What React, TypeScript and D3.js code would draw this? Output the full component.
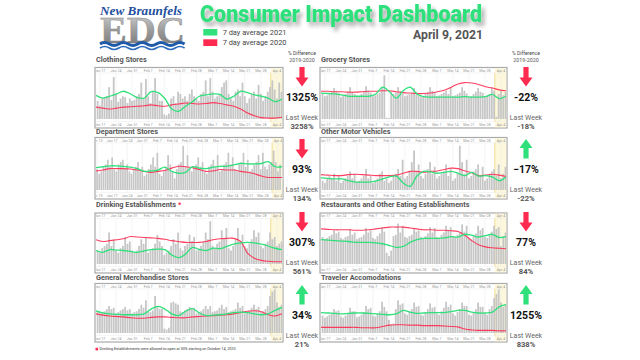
import React from 'react';
import * as d3 from 'd3';

// ---------- DATA ----------
const weekTickLabels = ['Jan 10', 'Jan 17', 'Jan 24', 'Jan 31', 'Feb 7', 'Feb 14', 'Feb 21', 'Feb 28', 'Mar 7', 'Mar 14', 'Mar 21', 'Mar 28', 'Apr 4'];
const weekTickDays = [9, 16, 23, 30, 37, 44, 51, 58, 65, 72, 79, 86, 93];

const clothingBars = [40,30,45,48,50,70,42, 92,55,38,45,50,48,35, 45,40,42,50,55,80,45, 88,50,35,60,90,55,40, 40,10,8,12,45,50,35, 60,55,45,50,40,55,65, 50,45,40,55,60,85,50, 90,60,45,50,55,70,80, 85,55,45,40,60,65,50, 80,50,35,45,55,60,45, 75,55,40,50,60,70,85, 65,45,80,60];
const clothingGreen = [52,46,50,55,61,55,47,46,60,58,45,22,17,28,38,50,53,55,54,44,50,61,58,53,50,46,38,44];
const clothingRed = [26,24,22,24,26,27,28,29,31,29,28,31,33,35,34,33,34,36,34,31,28,22,13,7,3,2,2,4];

const departmentBars = [45,35,40,50,55,65,50, 70,45,40,55,60,65,45, 55,40,35,45,50,60,40, 50,30,35,45,55,70,50, 80,35,30,40,50,75,55, 40,25,45,55,60,95,50, 75,45,40,50,55,70,50, 60,40,35,50,55,65,50, 75,40,45,55,60,80,55, 70,45,40,55,60,80,50, 65,40,45,55,60,75,45, 80,50,45,55,60,85,60, 40,55];
const departmentGreen = [48,50,52,52,51,49,46,40,41,43,49,40,36,38,50,47,46,49,51,51,54,57,56,56,57,61,50,50];
const departmentRed = [41,43,46,46,46,45,43,40,38,40,42,47,51,50,48,44,40,41,44,43,43,40,38,35,30,27,27,27];

const drinkingBars = [30,25,35,40,45,70,40, 55,30,25,35,40,60,45, 50,30,25,30,40,55,45, 60,25,30,35,45,65,50, 40,20,25,30,40,55,45, 70,35,30,40,45,65,50, 60,30,35,40,50,70,55, 95,40,35,45,50,75,55, 80,35,30,40,55,80,50, 65,40,35,45,55,75,60, 70,40,35,45,50,70,55, 60,40,45,50];
const drinkingGreen = [30,26,32,31,30,28,26,29,32,33,32,20,14,22,37,32,30,35,34,39,44,47,48,47,44,40,35,32];
const drinkingRed = [54,50,52,54,56,61,60,59,58,57,55,52,50,48,48,48,50,54,56,57,57,50,24,13,8,6,5,5];

const merchBars = [50,45,48,50,55,62,55, 58,45,48,52,55,60,52, 55,45,48,50,55,65,58, 75,50,48,52,85,60,55, 55,10,8,12,70,72,68, 65,50,48,52,55,60,55, 58,45,48,50,55,62,55, 62,48,50,52,58,65,55, 60,48,50,52,55,70,58, 62,45,48,52,58,65,55, 60,48,50,55,62,85,95, 100,70,60,65];
const merchGreen = [51,46,44,43,42,42,42,44,55,61,55,44,40,50,56,46,40,41,42,44,47,48,47,44,42,44,52,59];
const merchRed = [44,41,39,38,37,35,34,34,36,37,37,36,35,35,37,38,39,40,41,42,44,47,50,51,49,42,39,44];

const groceryBars = [55,50,52,55,60,68,62, 58,48,52,55,58,70,60, 55,50,50,55,60,72,62, 58,50,52,55,58,70,96, 3,2,60,55,58,70,62, 56,50,52,55,58,68,60, 52,48,50,55,60,70,62, 58,50,52,55,58,62,55, 70,50,52,55,58,70,62, 56,48,50,55,60,68,60, 58,50,52,55,70,62,5, 55,62,52,60];
const groceryGreen = [57,56,55,53,50,50,50,50,55,70,60,46,62,70,55,49,48,48,48,48,48,49,48,48,49,54,45,50];
const groceryRed = [61,61,60,60,59,59,60,61,61,62,62,60,58,57,56,56,57,60,63,70,77,80,79,76,71,68,64,62];

const motorBars = [20,15,25,30,25,35,20, 30,15,20,25,30,40,25, 35,18,20,25,30,45,25, 30,15,20,25,35,40,20, 25,15,20,30,35,45,30, 65,25,30,40,60,85,40, 55,30,25,35,45,60,35, 50,25,30,35,40,55,30, 45,20,25,35,95,60,35, 65,25,30,40,45,55,30, 50,20,25,35,40,45,30, 55,25,35,50];
const motorGreen = [26,25,24,24,20,17,17,17,19,24,28,30,15,8,30,40,39,36,38,40,36,31,38,30,31,28,20,28];
const motorRed = [33,32,31,31,33,34,33,32,31,31,31,32,36,40,40,38,40,41,44,47,46,41,37,31,32,34,32,29];

const restaurantBars = [60,55,58,62,65,75,68, 72,58,55,60,62,78,65, 70,55,58,60,65,80,70, 75,58,55,62,68,82,72, 25,18,30,62,65,90,70, 85,60,58,62,65,80,72, 75,60,58,62,68,82,70, 80,60,58,65,70,85,75, 82,62,60,65,70,88,72, 85,58,55,62,68,85,75, 80,60,58,65,72,85,78, 82,40,62,70];
const restaurantGreen = [54,53,52,51,50,48,48,48,47,45,41,37,39,48,54,57,57,57,58,61,60,66,64,60,63,66,59,61];
const restaurantRed = [78,77,76,76,76,75,75,76,78,80,82,82,82,80,78,76,76,75,75,74,72,64,52,43,38,36,35,34];

const travelerBars = [40,35,38,42,45,55,50, 52,38,35,40,45,58,50, 50,36,38,42,48,62,55, 58,40,38,45,50,72,60, 50,30,20,22,55,75,65, 68,45,42,50,55,70,60, 62,42,40,48,55,68,58, 60,45,42,50,58,72,60, 65,45,40,48,55,70,62, 62,42,40,48,55,70,60, 60,45,42,55,62,80,90, 100,70,60,65];
const travelerGreen = [47,46,45,44,45,46,46,45,44,43,42,44,52,48,45,46,47,47,47,49,52,52,48,46,46,48,60,65];
const travelerRed = [13,13,13,13,13,13,12,12,12,15,18,19,19,18,18,17,17,17,16,15,14,9,7,6,6,6,5,5];

const panelNames = ['Clothing Stores', 'Department Stores', 'Drinking Establishments', 'General Merchandise Stores', 'Grocery Stores', 'Other Motor Vehicles', 'Restaurants and Other Eating Establishments', 'Traveler Accomodations'];
const pctValues = ['1325%', '93%', '307%', '34%', '-22%', '\u221217%', '77%', '1255%'];
const lastWeekValues = ['3258%', '134%', '561%', '21%', '-18%', '-22%', '84%', '838%'];
const trendUp = [false, false, false, true, false, true, false, true];

// ---------- LAYOUT ----------
const COLS = [{ x0: 95, x1: 283, ind: 302 }, { x0: 320, x1: 507, ind: 526 }];
const ROWS = [
  { title: 62, ft: 67.5, fb: 128 },
  { title: 134, ft: 137.5, fb: 199 },
  { title: 207, ft: 213, fb: 273 },
  { title: 280, ft: 283.5, fb: 342 },
];
const GREEN = '#2fe07b';
const RED = '#ff2a4f';
const STD_DOMAIN: [number, number] = [14.3, 95.2];
const DEPT_DOMAIN: [number, number] = [8.5, 94.9];

const panels = [
  { col: 0, row: 0, bars: clothingBars, green: clothingGreen, red: clothingRed, start: 15, domain: STD_DOMAIN },
  { col: 0, row: 1, bars: departmentBars, green: departmentGreen, red: departmentRed, start: 9, domain: DEPT_DOMAIN },
  { col: 0, row: 2, bars: drinkingBars, green: drinkingGreen, red: drinkingRed, start: 15, domain: STD_DOMAIN },
  { col: 0, row: 3, bars: merchBars, green: merchGreen, red: merchRed, start: 15, domain: STD_DOMAIN },
  { col: 1, row: 0, bars: groceryBars, green: groceryGreen, red: groceryRed, start: 15, domain: STD_DOMAIN },
  { col: 1, row: 1, bars: motorBars, green: motorGreen, red: motorRed, start: 15, domain: STD_DOMAIN },
  { col: 1, row: 2, bars: restaurantBars, green: restaurantGreen, red: restaurantRed, start: 15, domain: STD_DOMAIN },
  { col: 1, row: 3, bars: travelerBars, green: travelerGreen, red: travelerRed, start: 15, domain: STD_DOMAIN },
].map((p, i) => ({ ...p, name: panelNames[i], pct: pctValues[i], last: lastWeekValues[i], up: trendUp[i] }));

const FONT = 'Roboto, "Open Sans", sans-serif';

function Chart({ p, idx }: any) {
  const c = COLS[p.col];
  const r = ROWS[p.row];
  const x = d3.scaleLinear().domain(p.domain).range([c.x0 + 1, c.x1 - 1]);
  const y = d3.scaleLinear().domain([0, 100]).range([r.fb - 9, r.ft + 6]);
  const dayW = x(1) - x(0);
  const bw = dayW * 0.78;
  const n = p.green.length;
  const lineX = (i: number) => x(p.domain[0] + (i * (p.domain[1] - p.domain[0])) / (n - 1));
  const line = d3.line<number>().x((_, i) => lineX(i)).y((v) => y(v)).curve(d3.curveCatmullRom.alpha(0.5));
  const clipId = `clip${idx}`;
  const hx = x(90.3);
  const ticks = weekTickDays.map((d, i) => ({ d, label: weekTickLabels[i] })).filter((t) => x(t.d) > c.x0 - 4 && x(t.d) < c.x1 + 4);
  return (
    <g>
      <defs>
        <clipPath id={clipId}>
          <rect x={c.x0 + 0.8} y={r.ft + 0.8} width={c.x1 - c.x0 - 1.6} height={r.fb - r.ft - 1.6} />
        </clipPath>
      </defs>
      <rect x={c.x0} y={r.ft} width={c.x1 - c.x0} height={r.fb - r.ft} fill="#fff" stroke="#a9a9a9" strokeWidth={1.2} />
      <g clipPath={`url(#${clipId})`}>
        <rect x={hx} y={r.ft} width={c.x1 - hx} height={r.fb - r.ft} fill="#fdf8dc" />
        <line x1={hx} x2={hx} y1={r.ft + 5} y2={r.fb - 6} stroke="#f3d98e" strokeWidth={0.9} />
        {ticks.map((t) => (
          <line key={t.d} x1={x(t.d)} x2={x(t.d)} y1={r.ft + 5.5} y2={r.fb - 6.5} stroke="#ececec" strokeWidth={0.6} />
        ))}
        <line x1={c.x0} x2={c.x1} y1={r.ft + 5.5} y2={r.ft + 5.5} stroke="#eeeeee" strokeWidth={0.6} />
        <line x1={c.x0} x2={c.x1} y1={r.fb - 6.5} y2={r.fb - 6.5} stroke="#eeeeee" strokeWidth={0.6} />
        {p.bars.map((v: number, i: number) => (
          <rect key={i} x={x(p.start + i) - bw / 2} y={y(v)} width={bw} height={y(0) - y(v)} fill="#c6c6c6" />
        ))}
        <path d={line(p.red) || ''} fill="none" stroke={RED} strokeWidth={1.1} strokeOpacity={0.9} />
        <path d={line(p.green) || ''} fill="none" stroke={GREEN} strokeWidth={1.3} />
        {ticks.map((t) => (
          <g key={'l' + t.d} fontFamily={FONT} fontSize={3.6} fill="#9a9a9a" textAnchor="middle">
            <text x={x(t.d)} y={r.ft + 4.3}>{t.label}</text>
            <text x={x(t.d)} y={r.fb - 2.2}>{t.label}</text>
          </g>
        ))}
      </g>
      <text x={c.x0 + 1} y={r.title} fontFamily={FONT} fontWeight={700} fontSize={7.3} fill="#555">
        {p.name}
        {p.name.startsWith('Drinking') ? <tspan fill={RED} dx={2}>*</tspan> : null}
      </text>
      <Indicator cx={c.ind} top={r.title} up={p.up} pct={p.pct} last={p.last} />
    </g>
  );
}

function Indicator({ cx, top, up, pct, last }: any) {
  const t = top + 5;
  const b = top + 24.5;
  const hw = 6.5, sw = 2.6, hh = 9;
  const color = up ? GREEN : RED;
  let d: string;
  if (!up) {
    d = `M${cx - sw},${t} L${cx + sw},${t} L${cx + sw},${b - hh} L${cx + hw},${b - hh} L${cx},${b} L${cx - hw},${b - hh} L${cx - sw},${b - hh} Z`;
  } else {
    d = `M${cx - sw},${b} L${cx + sw},${b} L${cx + sw},${t + hh} L${cx + hw},${t + hh} L${cx},${t} L${cx - hw},${t + hh} L${cx - sw},${t + hh} Z`;
  }
  return (
    <g fontFamily={FONT} textAnchor="middle">
      <path d={d} fill={color} />
      <text x={cx} y={top + 38.5} fontSize={10.5} fontWeight={700} fill="#111">{pct}</text>
      <text x={cx} y={top + 57.5} fontSize={7} fill="#666">Last Week</text>
      <text x={cx} y={top + 66.5} fontSize={7.6} fontWeight={700} fill="#555">{last}</text>
    </g>
  );
}

function Logo() {
  const waveA = d3.range(0, 9).map((i) => `q4.7,${i % 2 ? 3 : -3} 9.4,0`).join(' ');
  return (
    <g>
      <defs>
        <linearGradient id="silver" x1="0" y1="0" x2="0" y2="1">
          <stop offset="0" stopColor="#dadada" />
          <stop offset="0.5" stopColor="#9c9c9c" />
          <stop offset="1" stopColor="#707070" />
        </linearGradient>
      </defs>
      <text x={100} y={14.5} fontFamily='"Liberation Serif", serif' fontStyle="italic" fontWeight={700} fontSize={12.5} fill="#1f4f9e" textLength={82} lengthAdjust="spacingAndGlyphs">New Braunfels</text>
      <text transform="translate(100,43) scale(1,1.3)" fontFamily='"Liberation Serif", serif' fontWeight={700} fontSize={29} fill="url(#silver)" stroke="#888" strokeWidth={0.35} textLength={85} lengthAdjust="spacingAndGlyphs">EDC</text>
      <path d={`M100,44 ${waveA}`} fill="none" stroke="#1f5aa8" strokeWidth={3} />
      <path d={`M100,48 ${waveA}`} fill="none" stroke="#2c6cbf" strokeWidth={1.6} />
    </g>
  );
}

export default function App() {
  return (
    <svg width={640} height={360} style={{ position: 'absolute', left: 0, top: 0, display: 'block', background: '#fff' }}>
      <defs>
        <filter id="shadow" x="-10%" y="-60%" width="125%" height="240%">
          <feGaussianBlur in="SourceAlpha" stdDeviation="2" result="blur" />
          <feOffset in="blur" dx="3" dy="3.5" result="off" />
          <feComponentTransfer in="off" result="soft">
            <feFuncA type="linear" slope="0.35" />
          </feComponentTransfer>
          <feMerge>
            <feMergeNode in="soft" />
            <feMergeNode in="SourceGraphic" />
          </feMerge>
        </filter>
      </defs>
      <rect width={640} height={360} fill="#fff" />
      <Logo />
      <text x={200} y={22.3} fontFamily={FONT} fontWeight={900} fontSize={23} fill={GREEN} filter="url(#shadow)" textLength={282} lengthAdjust="spacingAndGlyphs">Consumer Impact Dashboard</text>
      <rect x={203.3} y={29} width={14} height={6.5} fill={GREEN} />
      <rect x={203.3} y={39.3} width={14} height={6.7} fill={RED} />
      <text x={222.7} y={35} fontFamily={FONT} fontSize={7.4} fill="#444">7 day average 2021</text>
      <text x={222.7} y={45.4} fontFamily={FONT} fontSize={7.4} fill="#444">7 day average 2020</text>
      <text x={483} y={38.6} fontFamily={FONT} fontWeight={700} fontSize={12} fill="#555" textAnchor="end" textLength={70} lengthAdjust="spacingAndGlyphs">April 9, 2021</text>
      {COLS.map((c, i) => (
        <g key={i} fontFamily={FONT} textAnchor="middle">
          <text x={c.ind} y={55} fontSize={5} fill="#444">% Difference</text>
          <text x={c.ind} y={62.3} fontSize={5.3} fill="#555">2019-2020</text>
        </g>
      ))}
      {panels.map((p, i) => (
        <Chart key={i} p={p} idx={i} />
      ))}
      <rect x={95.5} y={347.8} width={2.6} height={2.6} fill={RED} />
      <text x={99.5} y={350.3} fontFamily={FONT} fontSize={4.4} fill="#333" textLength={137} lengthAdjust="spacingAndGlyphs">Drinking Establishments were allowed to open at 50% starting on October 14, 2020.</text>
    </svg>
  );
}
